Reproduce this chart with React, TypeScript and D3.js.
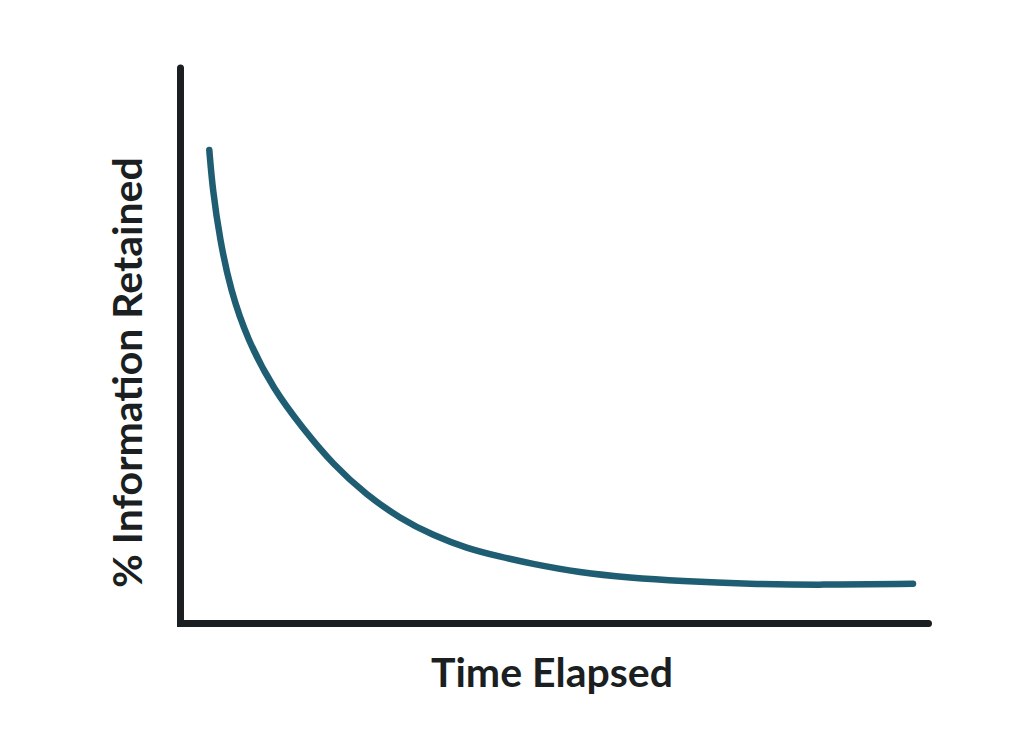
import React from "react";
import * as d3 from "d3";

const timeValues = [3.85, 4.3, 5.28, 6.68, 8.96, 12.5, 16.18, 20.43, 24.89, 29.35, 33.8, 38.26, 42.71, 46.72, 53.41, 60.09, 66.78, 76.14, 85.49, 97.93];
const retainedValues = [85.24, 78.04, 69.04, 60.04, 51.04, 42.03, 35.43, 28.53, 23.13, 18.9, 15.84, 13.54, 12.03, 10.8, 9.14, 8.24, 7.65, 7.11, 6.93, 7.16];
const xLabel = "Time Elapsed";
const yLabel = "% Information Retained";

const W = 1024;
const H = 747;

export default function App() {
  const x = d3.scaleLinear().domain([0, 100]).range([180.5, 928.5]);
  const y = d3.scaleLinear().domain([0, 100]).range([623.5, 68]);

  const pts: [number, number][] = timeValues.map((t, i) => [t, retainedValues[i]]);
  const line = d3
    .line<[number, number]>()
    .x((d) => x(d[0]))
    .y((d) => y(d[1]))
    .curve(d3.curveBasis);

  const axisPath = `M${x(0)},${y(100)} L${x(0)},${y(0)} L${x(100)},${y(0)}`;

  return (
    <svg
      width={W}
      height={H}
      style={{ position: "absolute", left: 0, top: 0, background: "#fff" }}
    >
      <rect width={W} height={H} fill="#ffffff" />
      <path
        d={axisPath}
        fill="none"
        stroke="#1b1f21"
        strokeWidth={7}
        strokeLinecap="round"
        strokeLinejoin="miter"
      />
      <path
        d={line(pts) || ""}
        fill="none"
        stroke="#1f5d73"
        strokeWidth={6.5}
        strokeLinecap="round"
      />
      <text
        x={552}
        y={687}
        textAnchor="middle"
        fontFamily="Lato, 'Open Sans', sans-serif"
        fontWeight={700}
        fontSize={41}
        fill="#1b1f21"
      >
        {xLabel}
      </text>
      <text
        transform="translate(142,372.5) rotate(-90)"
        textAnchor="middle"
        fontFamily="Lato, 'Open Sans', sans-serif"
        fontWeight={700}
        fontSize={41}
        fill="#1b1f21"
      >
        {yLabel}
      </text>
    </svg>
  );
}
